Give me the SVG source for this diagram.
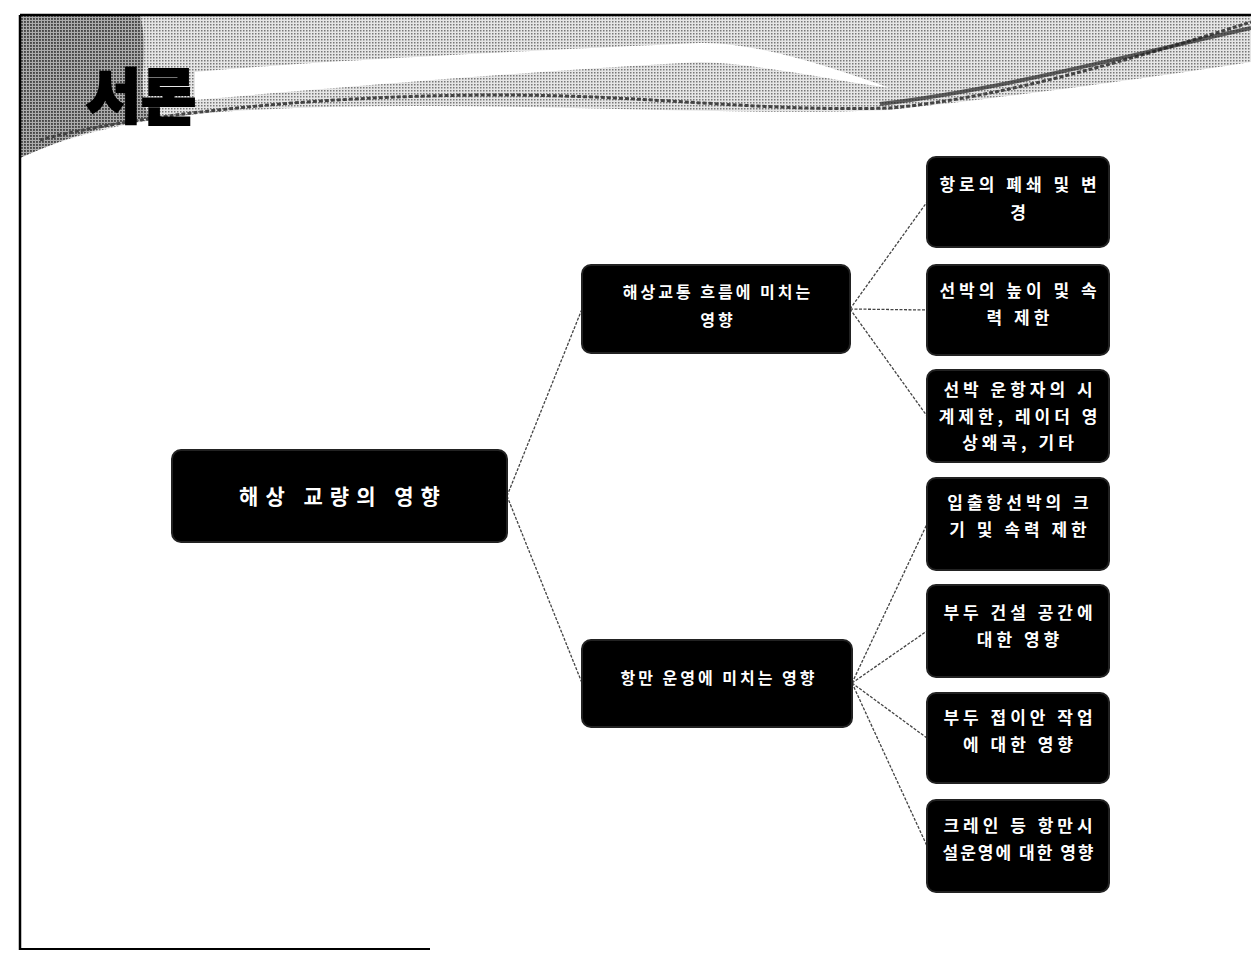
<svg xmlns="http://www.w3.org/2000/svg" width="1251" height="954" viewBox="0 0 1251 954">
<defs>
<pattern id="dots" width="3" height="3" patternUnits="userSpaceOnUse">
<rect width="3" height="3" fill="#e6e6e6"/>
<rect width="1.5" height="1.5" fill="#777"/>
</pattern>
<pattern id="dotsDark" width="3" height="3" patternUnits="userSpaceOnUse">
<rect width="3" height="3" fill="#999"/>
<rect width="2" height="2" fill="#333"/>
</pattern>
<style>
.node rect{fill:#000;stroke:#222;stroke-width:2}
.node text{fill:#fff;font-family:"Noto Sans CJK KR","Noto Sans",sans-serif;font-weight:bold;text-anchor:middle}
.big{font-size:21px;letter-spacing:7px}
.mid{font-size:17px;letter-spacing:4px}
.sm{font-size:16px;letter-spacing:3px}
#connectors line{stroke:#444;stroke-width:1.3;stroke-dasharray:3 1.5;fill:none}
</style>
</defs>
<rect width="1251" height="954" fill="#fff"/>
<g id="header">
<path d="M20,15 L1251,15 L1251,62 C1150,78 1000,98 890,110 C700,118 450,96 220,112 C130,120 70,135 20,158 Z" fill="url(#dots)"/>
<path d="M20,15 L140,15 C150,50 135,90 150,118 C100,126 60,140 20,158 Z" fill="url(#dotsDark)" opacity="0.75"/>
<path d="M195,72 C300,62 500,52 700,43 C760,42 840,70 890,88 C820,78 760,64 700,62 C520,72 330,88 195,100 Z" fill="#fff"/>
<path d="M40,140 C120,118 300,95 500,95 C650,95 760,112 890,108 C1000,98 1130,60 1251,22" fill="none" stroke="#444" stroke-width="3" stroke-dasharray="4 2"/>
<path d="M880,104 C1000,90 1130,55 1251,28" fill="none" stroke="#222" stroke-width="4" opacity="0.7"/>
<text x="86" y="118" font-family="'Noto Sans CJK KR',sans-serif" font-weight="900" font-size="59" fill="#000" stroke="#000" stroke-width="2" textLength="110" lengthAdjust="spacingAndGlyphs">서론</text>
</g>
<g id="frame" fill="none" stroke="#000">
<line x1="20" y1="15" x2="1251" y2="15" stroke-width="2.5"/>
<line x1="20" y1="15" x2="20" y2="950" stroke-width="2.5"/>
<line x1="20" y1="949" x2="430" y2="949" stroke-width="2"/>
</g>
<g id="connectors">
<line x1="507" y1="496" x2="582" y2="309"/>
<line x1="507" y1="496" x2="582" y2="683"/>
<line x1="850" y1="309" x2="927" y2="202"/>
<line x1="850" y1="309" x2="927" y2="310" stroke-width="2.5"/>
<line x1="850" y1="309" x2="927" y2="416"/>
<line x1="852" y1="683" x2="927" y2="524"/>
<line x1="852" y1="683" x2="927" y2="631"/>
<line x1="852" y1="683" x2="927" y2="738"/>
<line x1="852" y1="683" x2="927" y2="846"/>
</g>
<g id="n-root" class="node"><rect x="172" y="450" width="335" height="92" rx="9"/><text class="big" x="343" y="504">해상 교량의 영향</text></g>
<g id="n-traffic" class="node"><rect x="582" y="265" width="268" height="88" rx="9"/><text class="sm" x="718" y="298">해상교통 흐름에 미치는</text><text class="sm" x="718" y="326">영향</text></g>
<g id="n-port" class="node"><rect x="582" y="640" width="270" height="87" rx="9"/><text class="sm" x="719" y="684">항만 운영에 미치는 영향</text></g>
<g id="n1" class="node"><rect x="927" y="157" width="182" height="90" rx="9"/><text class="mid" x="1020" y="191">항로의 폐쇄 및 변</text><text class="mid" x="1020" y="219">경</text></g>
<g id="n2" class="node"><rect x="927" y="265" width="182" height="90" rx="9"/><text class="mid" x="1020" y="297">선박의 높이 및 속</text><text class="mid" x="1020" y="324">력 제한</text></g>
<g id="n3" class="node"><rect x="927" y="370" width="182" height="92" rx="9"/><text class="mid" x="1020" y="396">선박 운항자의 시</text><text class="mid" x="1020" y="423">계제한, 레이더 영</text><text class="mid" x="1020" y="449">상왜곡, 기타</text></g>
<g id="n4" class="node"><rect x="927" y="478" width="182" height="92" rx="9"/><text class="mid" x="1020" y="509">입출항선박의 크</text><text class="mid" x="1020" y="536">기 및 속력 제한</text></g>
<g id="n5" class="node"><rect x="927" y="585" width="182" height="92" rx="9"/><text class="mid" x="1020" y="619">부두 건설 공간에</text><text class="mid" x="1020" y="646">대한 영향</text></g>
<g id="n6" class="node"><rect x="927" y="693" width="182" height="90" rx="9"/><text class="mid" x="1020" y="724">부두 접이안 작업</text><text class="mid" x="1020" y="751">에 대한 영향</text></g>
<g id="n7" class="node"><rect x="927" y="800" width="182" height="92" rx="9"/><text class="mid" x="1020" y="832">크레인 등 항만시</text><text class="mid" x="1019" y="859" style="letter-spacing:2px">설운영에 대한 영향</text></g>
</svg>
